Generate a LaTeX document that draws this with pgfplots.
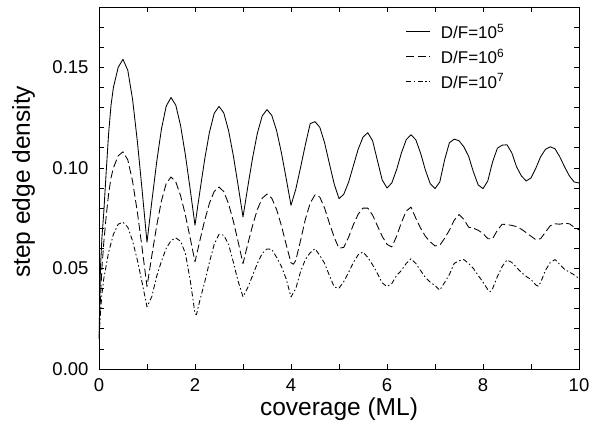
\documentclass[border=0pt]{standalone}
\usepackage{fontspec}
\setmainfont{Liberation Sans}
\usepackage{pgfplots}
\pgfplotsset{compat=1.18}

% step edge density vs coverage, three deposition ratios
\begin{document}
\begin{tikzpicture}
\begin{axis}[
    at={(0,0)}, anchor=south west,
    width=480bp, height=362bp, scale only axis,
    xmin=0, xmax=10, ymin=0, ymax=0.18,
    xtick={0,2,4,6,8,10},
    minor xtick={1,3,5,7,9},
    ytick={0,0.05,0.10,0.15},
    minor ytick={0.01,0.02,0.03,0.04,0.06,0.07,0.08,0.09,0.11,0.12,0.13,0.14,0.16,0.17},
    tick align=inside,
    major tick length=5bp, minor tick length=5bp,
    every tick/.style={black, line width=0.6bp},
    axis line style={line width=0.9bp},
    /pgf/number format/assume math mode=true,
    ticklabel style={font=\fontsize{18.5bp}{20bp}\selectfont},
    xticklabel style={yshift=-6bp},
    yticklabel style={xshift=-7bp, /pgf/number format/.cd, fixed, fixed zerofill, precision=2},
    xlabel={coverage (ML)},
    ylabel={step edge density},
    label style={font=\fontsize{24.5bp}{26bp}\selectfont},
    xlabel style={at={(axis description cs:0.5,0)}, anchor=base, yshift=-46bp},
    ylabel style={at={(axis description cs:0,0.517)}, rotate=0, anchor=base, yshift=69bp},
    legend cell align=left,
    legend style={draw=none, fill=none, at={(0.633,0.965)}, anchor=north west,
        font=\fontsize{17bp}{19bp}\selectfont, row sep=5bp, column sep=8bp},
    legend image code/.code={\draw[#1] (0bp,0bp) -- (24bp,0bp);},
]
\addplot[black, line width=0.85bp, line join=round] coordinates {
(0,0.015)(0.03,0.05)(0.06,0.065)(0.1,0.078)(0.15,0.098)(0.2,0.117)(0.25,0.131)(0.3,0.140)(0.4,0.150)(0.5,0.154)(0.6,0.1485)(0.7,0.134)(0.8,0.113)(0.9,0.0885)(1.0,0.063)
(1.1,0.0832)(1.2,0.1026)(1.3,0.1192)(1.4,0.1307)(1.5,0.135)(1.6,0.1312)(1.7,0.121)(1.8,0.1064)(1.9,0.0893)(2.0,0.0715)
(2.1,0.088)(2.2,0.104)(2.3,0.1176)(2.4,0.1271)(2.5,0.1306)(2.6,0.1273)(2.7,0.1185)(2.8,0.1059)(2.9,0.091)(3.0,0.0756)
(3.1,0.0906)(3.2,0.105)(3.3,0.1173)(3.4,0.1258)(3.5,0.129)(3.6,0.1261)(3.7,0.1185)(3.8,0.1076)(3.9,0.0947)(4.0,0.0814)
(4.1,0.0894)(4.2,0.1003)(4.3,0.1116)(4.4,0.122)(4.5,0.123)(4.6,0.1202)(4.7,0.1125)(4.8,0.1021)(4.9,0.092)(5.0,0.0847)
(5.1,0.0869)(5.2,0.0929)(5.3,0.1011)(5.4,0.1093)(5.5,0.1153)(5.6,0.1175)(5.7,0.1135)(5.8,0.1037)(5.9,0.094)(6.0,0.090)
(6.1,0.0925)(6.2,0.0991)(6.3,0.1074)(6.4,0.114)(6.5,0.1165)(6.6,0.114)(6.7,0.1073)(6.8,0.0989)(6.9,0.0922)(7.0,0.0897)
(7.1,0.093)(7.2,0.104)(7.3,0.1125)(7.4,0.1143)(7.5,0.1135)(7.6,0.1105)(7.7,0.1058)(7.8,0.098)(7.9,0.0915)(8.0,0.0897)
(8.1,0.0935)(8.2,0.103)(8.3,0.1098)(8.4,0.1113)(8.5,0.1115)(8.6,0.1075)(8.7,0.1005)(8.8,0.096)(8.9,0.0935)
(9.0,0.095)(9.1,0.0998)(9.2,0.1055)(9.3,0.1092)(9.4,0.1105)(9.5,0.1095)(9.6,0.1055)(9.7,0.1005)(9.8,0.096)(9.9,0.093)(10.0,0.0925)
};
\addlegendentry{D/F=10\textsuperscript{5}}
\addplot[black, line width=0.85bp, line join=round, dash pattern=on 8bp off 3.5bp] coordinates {
(0,0.015)(0.03,0.035)(0.06,0.050)(0.1,0.063)(0.15,0.076)(0.2,0.087)(0.25,0.095)(0.3,0.100)(0.4,0.106)(0.5,0.108)(0.6,0.104)(0.7,0.0933)(0.8,0.0779)(0.9,0.0598)(1.0,0.041)
(1.1,0.0563)(1.2,0.071)(1.3,0.0835)(1.4,0.0922)(1.5,0.0955)(1.6,0.093)(1.7,0.0862)(1.8,0.0765)(1.9,0.0651)(2.0,0.0533)
(2.1,0.0637)(2.2,0.0738)(2.3,0.0823)(2.4,0.0883)(2.5,0.0905)(2.6,0.0882)(2.7,0.0821)(2.8,0.0734)(2.9,0.0631)(3.0,0.0524)
(3.1,0.0621)(3.2,0.0714)(3.3,0.0794)(3.4,0.0849)(3.5,0.087)(3.6,0.0849)(3.7,0.0793)(3.8,0.0713)(3.9,0.0619)(4.0,0.0528)(4.05,0.0521)
(4.1,0.054)(4.2,0.064)(4.3,0.0745)(4.4,0.0825)(4.5,0.0866)(4.6,0.0855)(4.7,0.080)(4.8,0.0725)(4.9,0.0655)(5.0,0.0600)
(5.1,0.0605)(5.2,0.0655)(5.3,0.0718)(5.4,0.0770)(5.5,0.0800)(5.6,0.0800)(5.7,0.0765)(5.8,0.0712)(5.9,0.0660)(6.0,0.0620)(6.1,0.0607)
(6.2,0.066)(6.3,0.0728)(6.4,0.0785)(6.5,0.0805)(6.6,0.0750)(6.7,0.0700)(6.8,0.0660)(6.9,0.0632)(7.0,0.0612)(7.1,0.0615)
(7.2,0.065)(7.3,0.069)(7.4,0.074)(7.5,0.0768)(7.6,0.0745)(7.7,0.0705)(7.8,0.0700)(7.9,0.0690)(8.0,0.0674)(8.1,0.0648)(8.2,0.0648)
(8.3,0.0690)(8.4,0.0720)(8.5,0.0718)(8.6,0.0714)(8.7,0.0708)(8.8,0.0695)(8.9,0.0678)(9.0,0.066)(9.1,0.0643)(9.2,0.0648)
(9.3,0.0680)(9.4,0.0712)(9.5,0.0722)(9.6,0.0720)(9.7,0.0725)(9.8,0.0722)(9.9,0.0705)(10.0,0.0692)
};
\addlegendentry{D/F=10\textsuperscript{6}}
\addplot[black, line width=0.85bp, line join=round, dash pattern=on 5bp off 2.5bp on 1.5bp off 2.5bp] coordinates {
(0,0.015)(0.03,0.028)(0.06,0.037)(0.1,0.045)(0.2,0.058)(0.3,0.067)(0.4,0.072)(0.5,0.073)(0.6,0.0705)(0.7,0.0637)(0.8,0.0541)(0.9,0.0427)(1.0,0.0309)
(1.1,0.036)(1.2,0.046)(1.3,0.0535)(1.4,0.060)(1.5,0.0638)(1.6,0.0652)(1.7,0.0635)(1.8,0.0575)(1.9,0.0442)(2.0,0.0275)(2.03,0.027)
(2.1,0.034)(2.2,0.043)(2.3,0.053)(2.4,0.062)(2.5,0.067)(2.6,0.0665)(2.7,0.062)(2.8,0.053)(2.9,0.0435)(3.0,0.0359)
(3.1,0.0405)(3.2,0.0465)(3.3,0.0525)(3.4,0.0575)(3.5,0.0597)(3.6,0.0595)(3.7,0.0555)(3.8,0.051)(3.9,0.0448)(4.0,0.0358)
(4.1,0.040)(4.2,0.0485)(4.3,0.0545)(4.4,0.0578)(4.5,0.0598)(4.6,0.0565)(4.7,0.0525)(4.8,0.0465)(4.9,0.0408)(5.0,0.0402)
(5.1,0.0435)(5.2,0.048)(5.3,0.053)(5.4,0.0568)(5.5,0.0582)(5.6,0.0555)(5.7,0.0518)(5.8,0.0475)(5.9,0.0428)(6.0,0.041)
(6.1,0.0425)(6.2,0.0465)(6.3,0.049)(6.4,0.0525)(6.5,0.0548)(6.6,0.0525)(6.7,0.049)(6.8,0.0455)(6.9,0.0432)(7.0,0.0415)(7.1,0.0392)
(7.2,0.043)(7.3,0.047)(7.4,0.0525)(7.5,0.0538)(7.6,0.0544)(7.7,0.0525)(7.8,0.050)(7.9,0.0465)(8.0,0.0432)(8.1,0.0395)(8.15,0.0384)
(8.2,0.040)(8.3,0.046)(8.4,0.051)(8.5,0.0542)(8.6,0.053)(8.7,0.0505)(8.8,0.048)(8.9,0.046)(9.0,0.0445)(9.1,0.0418)(9.15,0.0412)
(9.2,0.043)(9.3,0.049)(9.4,0.053)(9.5,0.0544)(9.6,0.052)(9.7,0.0495)(9.8,0.0482)(9.9,0.0468)(10.0,0.045)
};
\addlegendentry{D/F=10\textsuperscript{7}}
\end{axis}
\pgfresetboundingbox
\path (-99bp,-53bp) rectangle (493bp,369bp);
\end{tikzpicture}
\end{document}
